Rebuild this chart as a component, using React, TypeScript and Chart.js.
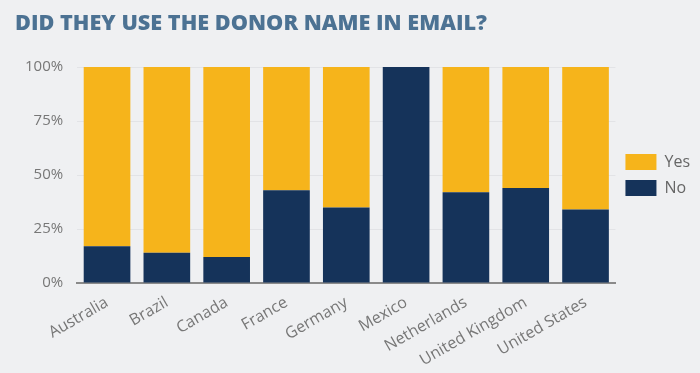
import React, { useEffect, useRef } from "react";
import { Chart, registerables } from "chart.js";

Chart.register(...registerables);

const title = "DID THEY USE THE DONOR NAME IN EMAIL?";
const categories = ["Australia", "Brazil", "Canada", "France", "Germany", "Mexico", "Netherlands", "United Kingdom", "United States"];
const noValues = [17, 14, 12, 43, 35, 100, 42, 44, 34];
const yesValues = [83, 86, 88, 57, 65, 0, 58, 56, 66];
const yTicks = [0, 25, 50, 75, 100];

export default function App() {
  const ref = useRef<HTMLCanvasElement>(null);
  useEffect(() => {
    document.body.style.margin = "0";
    const font = "'Open Sans', sans-serif";
    const chart = new Chart(ref.current!, {
      type: "bar",
      data: {
        labels: categories,
        datasets: [
          { label: "No", data: noValues, backgroundColor: "#15335a", borderWidth: 0 },
          { label: "Yes", data: yesValues, backgroundColor: "#f6b41b", borderWidth: 0 },
        ],
      },
      options: {
        responsive: false,
        animation: false,
        layout: { padding: { top: 67, left: 11, right: 0, bottom: 1 } },
        datasets: { bar: { categoryPercentage: 1, barPercentage: 0.78 } },
        plugins: {
          title: { display: false },
          legend: {
            position: "right",
            fullSize: false,
            reverse: true,
            labels: {
              boxWidth: 31,
              boxHeight: 16,
              color: "#666",
              font: { family: font, size: 16 },
              padding: 10,
            },
          },
          tooltip: { enabled: false },
        },
        scales: {
          x: {
            stacked: true,
            grid: { display: false },
            border: { color: "#8a8a8a", width: 2 },
            ticks: { color: "#777", font: { family: font, size: 16 }, minRotation: 30, maxRotation: 30, padding: 2 },
          },
          y: {
            stacked: true,
            min: 0,
            max: 100,
            afterBuildTicks: (axis: any) => { axis.ticks = yTicks.map((v) => ({ value: v })); },
            grid: { color: "#e2e3e6", tickLength: 0 },
            border: { display: false },
            ticks: { color: "#777", font: { family: font, size: 15 }, callback: (v: any) => v + "%", padding: 14 },
          },
        },
      },
    });
    return () => chart.destroy();
  }, []);
  return (
    <div style={{ position: "absolute", left: 0, top: 0, width: 700, height: 373, background: "#eff0f2" }}>
      <canvas ref={ref} width={700} height={373} style={{ position: "absolute", left: 0, top: 0 }} />
      <div
        style={{
          position: "absolute",
          left: 15,
          top: 8,
          fontFamily: "'Open Sans', sans-serif",
          fontWeight: 800,
          fontSize: 21.7,
          lineHeight: "28px",
          color: "#4c7293",
          whiteSpace: "nowrap",
        }}
      >
        {title}
      </div>
    </div>
  );
}
